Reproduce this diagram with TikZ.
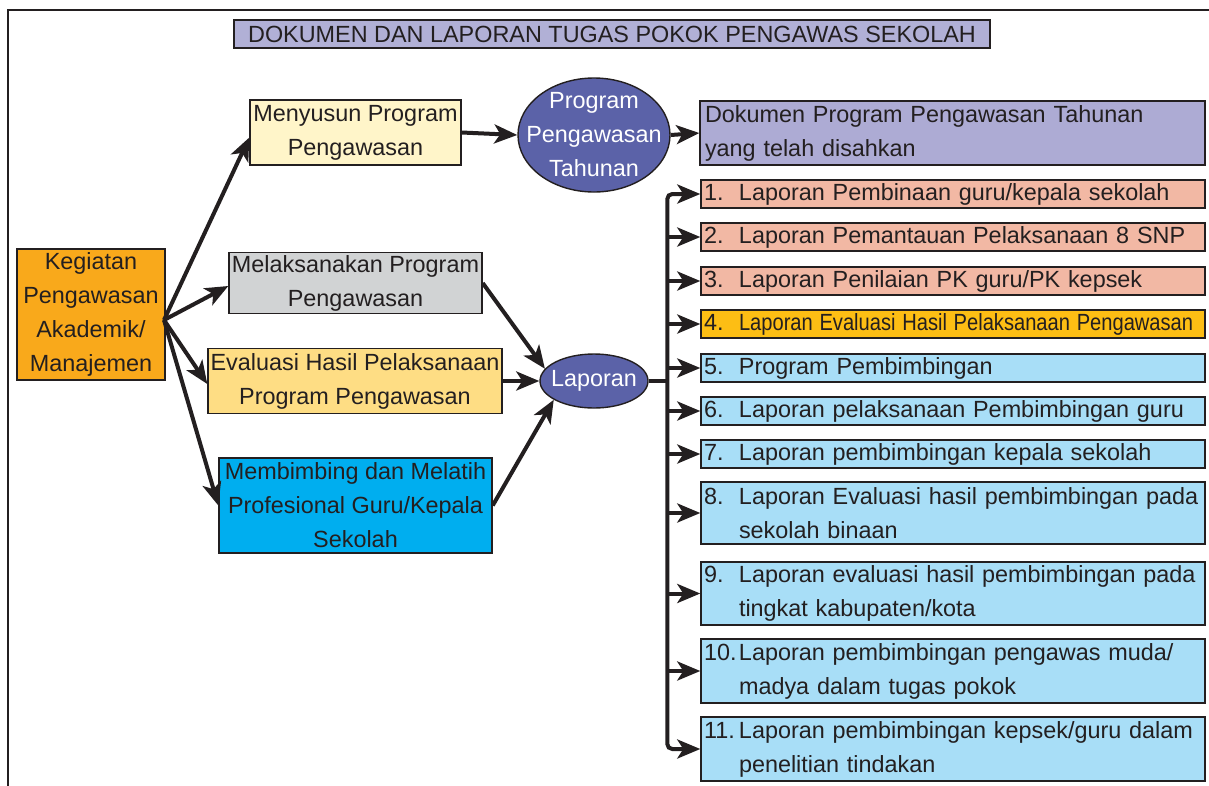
\documentclass[tikz,border=0pt]{standalone}
\usepackage{fontspec}
\setmainfont{Liberation Sans}
\usepackage{graphicx}
\usetikzlibrary{arrows.meta,shapes.geometric}

\definecolor{ink}{HTML}{231F20}
\definecolor{lavender}{HTML}{B1B0D6}
\definecolor{cream}{HTML}{FFF5C9}
\definecolor{ellblue}{HTML}{5B62A8}
\definecolor{doclav}{HTML}{ADABD4}
\definecolor{kegorange}{HTML}{F9A91B}
\definecolor{lightgray}{HTML}{D1D3D4}
\definecolor{paleyellow}{HTML}{FEDD84}
\definecolor{cyanbox}{HTML}{00AEEF}
\definecolor{salmon}{HTML}{F2B8A4}
\definecolor{gold}{HTML}{FDBE14}
\definecolor{skyblue}{HTML}{A8DEF7}

\newcommand\boxfont{\fontsize{23.4}{34}\selectfont}
\newcommand\numcol[1]{\makebox[35pt][l]{#1}}

\tikzset{
  >={Stealth[length=23pt,width=19pt,inset=6pt]},
  box/.style={draw=ink, line width=1.4pt, text=ink, inner sep=0pt,
    align=center, font=\boxfont},
  itembox/.style={box, text width=498pt, inner xsep=3pt, inner ysep=0pt,
    align=left, minimum height=28pt},
  oval/.style={ellipse, draw=ink, line width=1.4pt, fill=ellblue, inner sep=0pt},
  ovaltext/.style={text=white, align=center, font=\boxfont, inner sep=0pt},
  flow/.style={draw=ink, line width=4pt, ->},
  link/.style={draw=ink, line width=4pt},
}

\begin{document}
\begin{tikzpicture}[x=1pt,y=-1pt]
\useasboundingbox (0,0) rectangle (1209,785);

% outer frame
\draw[ink, line width=1.3pt] (8,792) -- (8,10) -- (1215,10);

% heading
\node[box, fill=lavender, minimum width=756pt, minimum height=28pt] (title) at (612,34)
  {DOKUMEN DAN LAPORAN TUGAS POKOK PENGAWAS SEKOLAH};

% left column
\node[box, fill=kegorange, minimum width=148pt, minimum height=131pt] (keg) at (91,314.5)
  {Kegiatan\\Pengawasan\\Akademik/\\Manajemen};
\node[box, fill=cream, minimum width=211pt, minimum height=65pt] (menyusun) at (355.5,132.5)
  {Menyusun Program\\Pengawasan};
\node[box, fill=lightgray, minimum width=253pt, minimum height=61pt] (mel) at (355.5,283)
  {Melaksanakan Program\\Pengawasan};
\node[box, fill=paleyellow, minimum width=294pt, minimum height=65pt] (eval) at (355,381)
  {Evaluasi Hasil Pelaksanaan\\Program Pengawasan};
\node[box, fill=cyanbox, minimum width=273pt, minimum height=95pt] (memb) at (355.5,505.5)
  {Membimbing dan Melatih\\Profesional Guru/Kepala\\Sekolah};

% ovals
\node[oval, minimum width=152pt, minimum height=114pt] (prog) at (594,135) {};
\node[ovaltext] (progtxt) at (prog.center) {Program\\Pengawasan\\Tahunan};
\node[oval, minimum width=108pt, minimum height=54pt] (lap) at (594,381) {};
\node[ovaltext] (laptxt) at (lap.center) {Laporan};

% annual programme document
\node[box, fill=doclav, text width=495pt, inner xsep=5pt, align=left, minimum height=64pt] (dok) at (952.5,133)
  {Dokumen Program Pengawasan Tahunan\\yang telah disahkan};

% report list
\node[itembox, fill=salmon] (i1) at (953,194) {\numcol{1.}Laporan Pembinaan guru/kepala sekolah};
\node[itembox, fill=salmon] (i2) at (953,237) {\numcol{2.}Laporan Pemantauan Pelaksanaan 8 SNP};
\node[itembox, fill=salmon] (i3) at (953,281) {\numcol{3.}Laporan Penilaian PK guru/PK kepsek};
\node[itembox, fill=gold] (i4) at (953,324)
  {\numcol{4.}\scalebox{0.86}[1]{Laporan Evaluasi Hasil Pelaksanaan Pengawasan}};
\node[itembox, fill=skyblue] (i5) at (953,368) {\numcol{5.}Program Pembimbingan};
\node[itembox, fill=skyblue] (i6) at (953,411) {\numcol{6.}Laporan pelaksanaan Pembimbingan guru};
\node[itembox, fill=skyblue] (i7) at (953,454) {\numcol{7.}Laporan pembimbingan kepala sekolah};
\node[itembox, fill=skyblue, minimum height=62pt] (i8) at (953,513)
  {\numcol{8.}\makebox[460pt][s]{Laporan Evaluasi hasil pembimbingan pada}\\\hspace*{35pt}sekolah binaan};
\node[itembox, fill=skyblue, minimum height=63pt] (i9) at (953,593.5)
  {\numcol{9.}\makebox[460pt][s]{Laporan evaluasi hasil pembimbingan pada}\\\hspace*{35pt}tingkat kabupaten/kota};
\node[itembox, fill=skyblue, minimum height=64pt] (i10) at (953,671)
  {\numcol{10.}\makebox[460pt][s]{Laporan pembimbingan pengawas muda/}\\\hspace*{35pt}madya dalam tugas pokok};
\node[itembox, fill=skyblue, minimum height=64pt] (i11) at (953,749)
  {\numcol{11.}\makebox[460pt][s]{Laporan pembimbingan kepsek/guru dalam}\\\hspace*{35pt}penelitian tindakan};

% connectors from the activity box
\coordinate (hub) at (164,320);
\draw[flow] (hub) -- ([yshift=-5pt]menyusun.west);
\draw[flow] (hub) -- ([yshift=-3pt]mel.west);
\draw[flow] (hub) -- ([yshift=-3pt]eval.west);
\draw[flow] (hub) -- (memb.west);

% top row
\draw[flow] (menyusun.east) -- (prog.west);
\draw[flow] (prog.east) -- (dok.west);

% into the report oval
\draw[flow] (mel.east) -- (lap.166);
\draw[flow] (eval.east) -- (lap.west);
\draw[flow] (memb.east) -- (lap.205);

% distribution bus
\coordinate (bt) at ([xshift=-33pt]i1.west);
\coordinate (bb) at ([xshift=-33pt]i11.west);
\draw[link] (lap.east) -- (lap.east -| bt);
\draw[flow, <->, rounded corners=5pt] (i1.west) -- (bt) -- (bb) -- (i11.west);
\foreach \k in {2,...,10}
  \draw[flow] (bt |- i\k.west) -- (i\k.west);

\end{tikzpicture}
\end{document}
